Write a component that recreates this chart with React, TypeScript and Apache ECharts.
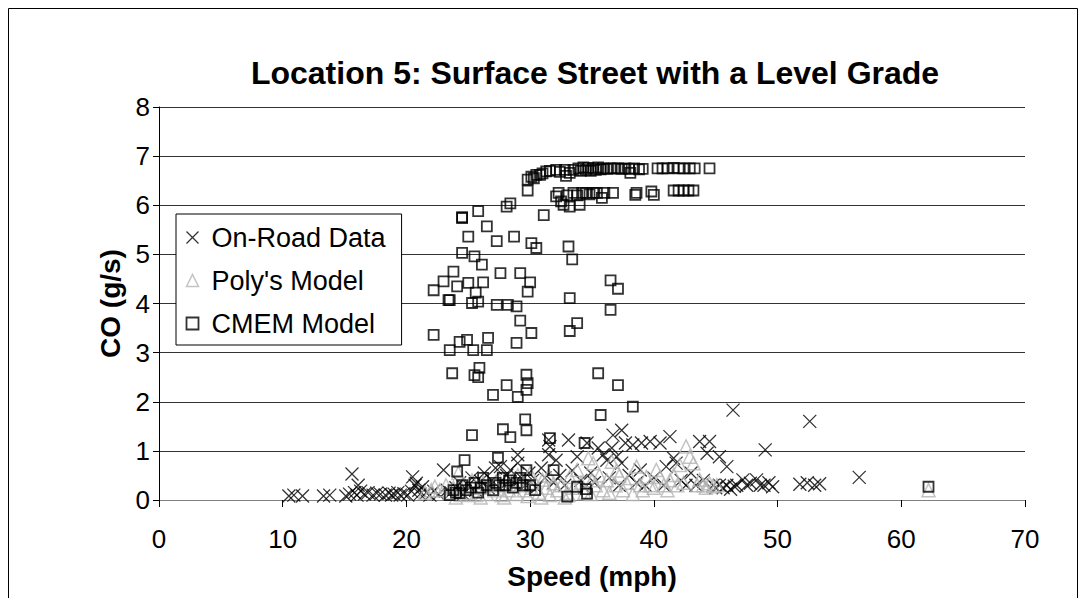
import React, { useEffect, useRef } from "react";
import * as echarts from "echarts";

const TITLE = "Location 5: Surface Street with a Level Grade";
const X_NAME = "Speed (mph)";
const Y_NAME = "CO (g/s)";
const SERIES_NAMES = ["On-Road Data", "Poly's Model", "CMEM Model"];

const onRoad: number[][] = [
  [10.5,0.08],[10.9,0.1],[11.6,0.08],[13.3,0.08],[13.8,0.1],[15.1,0.08],[15.4,0.12],[15.6,0.53],[15.8,0.15],[16.0,0.1],
  [16.1,0.3],[16.3,0.18],[16.6,0.12],[16.9,0.15],[17.3,0.1],[17.6,0.14],[17.9,0.12],[18.3,0.1],[18.6,0.14],[18.8,0.1],
  [19.0,0.12],[19.3,0.15],[19.5,0.1],[19.8,0.13],[20.1,0.1],[20.4,0.18],[20.5,0.47],[20.7,0.3],[20.8,0.34],[21.0,0.2],
  [21.1,0.12],[21.3,0.27],[21.6,0.15],[21.9,0.1],[22.2,0.18],[22.6,0.12],[23.0,0.61],[23.3,0.2],[23.6,0.15],[24.0,0.25],
  [24.3,0.35],[24.6,0.12],[25.0,0.3],[25.3,0.45],[25.6,0.2],[26.0,0.38],[26.3,0.55],[26.6,0.25],[26.9,0.4],[27.2,0.65],
  [27.6,0.68],[27.9,0.3],[28.1,0.5],[28.4,0.61],[28.7,0.35],[29.0,0.92],[29.0,0.75],[29.3,0.45],[29.6,0.3],[29.9,0.55],
  [30.2,0.4],[30.5,0.25],[30.9,0.65],[31.2,0.45],[31.5,1.22],[31.5,0.92],[31.6,1.09],[31.9,0.35],[32.1,0.81],[32.4,0.5],
  [32.8,0.3],[33.1,1.22],[33.4,0.6],[33.8,0.88],[34.1,0.4],[34.4,0.25],[34.6,1.16],[34.9,0.55],[35.2,0.35],[35.5,1.06],
  [35.9,0.92],[36.2,0.81],[36.4,0.45],[36.6,1.06],[36.7,1.32],[37.0,0.88],[37.2,0.3],[37.4,1.42],[37.4,0.75],[37.7,1.16],
  [38.0,0.5],[38.3,1.12],[38.6,0.35],[38.9,0.61],[39.0,1.16],[39.3,0.3],[39.7,1.19],[40.0,0.45],[40.5,1.16],[40.8,0.3],
  [41.0,0.68],[41.3,1.29],[41.6,0.85],[41.8,0.75],[42.2,0.4],[42.6,0.3],[43.0,0.55],[43.4,0.3],[43.7,1.19],[44.0,0.4],
  [44.3,0.95],[44.5,1.19],[44.8,0.3],[45.0,0.25],[45.3,0.88],[45.3,0.3],[45.6,0.25],[45.9,0.68],[45.9,0.3],[46.2,0.22],
  [46.4,1.83],[46.5,0.28],[46.7,0.3],[47.2,0.41],[47.5,0.3],[47.8,0.34],[48.3,0.41],[48.6,0.3],[48.9,0.3],[49.0,1.02],
  [49.3,0.35],[49.6,0.27],[51.8,0.32],[52.4,0.35],[52.6,1.6],[53.0,0.3],[53.4,0.33],[56.6,0.46]
];

const polyModel: number[][] = [
  [21.5,0.15],[22.0,0.2],[22.3,0.27],[22.7,0.2],[23.2,0.3],[23.5,0.15],[23.8,0.25],[24.2,0.55],[24.4,0.1],[24.7,0.3],
  [25.0,0.15],[25.3,0.4],[25.6,0.1],[25.9,0.25],[26.2,0.35],[26.5,0.12],[26.8,0.3],[27.1,0.2],[27.4,0.45],[27.7,0.1],
  [28.0,0.3],[28.3,0.2],[28.6,0.4],[28.9,0.12],[29.2,0.3],[29.5,0.2],[29.8,0.08],[30.1,0.25],[30.4,0.35],[30.7,0.15],
  [31.0,0.41],[31.3,0.25],[31.6,0.1],[31.9,0.34],[32.2,0.2],[32.5,0.3],[32.8,0.05],[33.0,0.15],[33.2,0.47],[33.5,0.25],
  [33.8,0.61],[34.1,0.35],[34.4,0.15],[34.7,0.85],[35.1,0.75],[35.3,0.3],[35.6,0.5],[35.9,0.2],[36.2,0.4],[36.6,0.78],
  [36.9,0.3],[37.2,0.5],[37.5,0.2],[37.8,0.35],[38.1,0.45],[38.6,0.68],[38.9,0.3],[39.1,0.2],[39.4,0.47],[39.7,0.3],
  [40.0,0.25],[40.2,0.61],[40.5,0.47],[40.8,0.3],[41.1,0.2],[41.3,0.4],[41.6,0.51],[41.9,0.3],[42.1,0.71],[42.4,0.35],
  [42.6,1.09],[42.9,0.88],[43.2,0.75],[43.5,0.3],[43.7,0.41],[44.0,0.3],[44.2,0.25],[44.5,0.34],[44.8,0.28],[45.1,0.3],
  [26.0,0.05],[27.9,0.05],[30.9,0.05],[33.1,0.1],[34.9,0.12],[36.4,0.15],[38.3,0.12],[24.0,0.05],[29.0,0.5],[30.0,0.55],
  [31.5,0.5],[35.0,0.4],[37.0,0.6],[62.2,0.2]
];

const cmemModel: number[][] = [
  [29.8,6.3],[29.8,6.52],[30.1,6.58],[30.3,6.55],[30.5,6.62],[30.8,6.62],[31.0,6.65],[31.3,6.69],[31.6,6.7],[32.1,6.72],
  [32.4,6.68],[32.8,6.72],[32.9,6.6],[33.2,6.66],[33.5,6.72],[33.9,6.75],[34.1,6.7],[34.3,6.77],[34.5,6.72],[34.7,6.76],
  [34.9,6.7],[35.1,6.75],[35.3,6.72],[35.5,6.77],[35.7,6.73],[35.9,6.75],[36.2,6.74],[36.5,6.75],[36.8,6.75],[37.1,6.75],
  [37.4,6.74],[37.7,6.75],[38.0,6.74],[38.1,6.66],[38.4,6.75],[38.8,6.73],[39.1,6.74],[40.3,6.75],[40.7,6.75],[41.1,6.75],
  [41.6,6.76],[42.0,6.75],[42.4,6.75],[42.9,6.75],[43.3,6.75],[44.5,6.75],
  [32.1,6.18],[32.3,6.25],[32.5,6.08],[32.7,6.01],[33.0,6.2],[33.2,5.97],[33.5,6.25],[33.8,6.2],[34.0,6.01],[34.2,6.25],
  [34.5,6.25],[34.8,6.22],[35.1,6.25],[35.4,6.25],[35.8,6.15],[36.0,6.25],[36.7,6.25],[38.5,6.21],[38.6,6.25],[39.8,6.28],
  [40.0,6.21],[41.6,6.3],[42.0,6.3],[42.4,6.3],[42.8,6.3],[43.2,6.3],
  [31.1,5.8],[28.1,5.97],[28.4,6.04],[24.5,5.76],[24.5,5.74],[25.8,5.88],[26.5,5.57],[25.0,5.36],[27.3,5.27],[28.7,5.36],
  [30.1,5.23],[30.5,5.13],[33.1,5.16],[33.4,4.9],[24.5,5.03],[25.5,4.96],[26.1,4.79],[27.6,4.62],[29.2,4.62],[30.0,4.43],
  [29.8,4.24],[23.8,4.65],[24.1,4.35],[25.0,4.42],[26.2,4.43],[25.6,4.22],[25.8,4.04],[25.3,4.01],[23.5,4.07],[27.3,3.97],
  [28.2,3.97],[28.9,3.94],[33.2,4.11],[36.5,4.47],[37.1,4.3],[36.5,3.87],[22.2,4.27],[23.0,4.45],[23.4,4.07],
  [29.2,3.65],[33.8,3.6],[22.2,3.36],[24.3,3.22],[23.5,3.05],[25.4,3.05],[24.9,3.26],[26.5,3.05],[26.6,3.3],[28.9,3.2],
  [30.1,3.4],[33.2,3.44],[23.7,2.58],[25.5,2.54],[25.9,2.69],[25.8,2.5],[28.1,2.34],[27.0,2.14],[29.0,2.1],[29.7,2.55],
  [29.8,2.38],[29.7,2.24],[35.5,2.58],[37.1,2.34],[38.3,1.9],[35.7,1.73],[29.6,1.64],[27.8,1.44],[28.4,1.28],[29.7,1.42],
  [25.3,1.32],[31.6,1.26],[34.4,1.16],[24.7,0.81],[27.4,0.86],[29.7,0.61],[31.9,0.61],[24.1,0.58],[33.0,0.07],[33.8,0.27],
  [34.6,0.13],[24.3,0.14],
  [23.5,0.1],[23.8,0.2],[24.0,0.15],[24.5,0.3],[24.8,0.2],[25.2,0.25],[25.5,0.35],[25.8,0.15],[26.0,0.25],[26.2,0.45],
  [26.5,0.3],[27.0,0.2],[27.2,0.35],[27.5,0.3],[27.8,0.45],[28.0,0.3],[28.3,0.4],[28.6,0.25],[28.9,0.35],[29.2,0.45],
  [29.4,0.3],[30.0,0.3],[30.4,0.2],[34.5,0.22],[62.2,0.27]
];

const X_MIN = 0, X_MAX = 70, X_STEP = 10;
const Y_MIN = 0, Y_MAX = 8, Y_STEP = 1;

const FONT = "'Liberation Sans', Arial, sans-serif";
const X_SYMBOL = "path://M0,0L10,10M0,10L10,0";

export default function App() {
  const ref = useRef<HTMLDivElement>(null);
  useEffect(() => {
    if (!ref.current) return;
    const chart = echarts.init(ref.current, null, { renderer: "svg" });
    const xStyle = { color: "none", borderColor: "#000", borderWidth: 1.3 };
    const triStyle = { color: "none", borderColor: "#b4b4b4", borderWidth: 1.5 };
    const sqStyle = { color: "none", borderColor: "#000", borderWidth: 1.8 };
    chart.setOption({
      animation: false,
      backgroundColor: "#fff",
      textStyle: { fontFamily: FONT },
      title: {
        text: TITLE,
        left: 590,
        textAlign: "center",
        top: 52,
        textStyle: { fontFamily: FONT, fontSize: 32, fontWeight: "bold", color: "#000" },
      },
      graphic: [
        {
          type: "rect",
          silent: true,
          shape: { x: 8.5, y: 8.5, width: 1069, height: 700 },
          style: { fill: "none", stroke: "#000", lineWidth: 1 },
          z: -10,
        },
      ],
      legend: {
        orient: "vertical",
        left: 176,
        top: 214,
        backgroundColor: "#fff",
        borderColor: "#000",
        borderWidth: 1,
        borderRadius: 0,
        padding: [10, 16, 8, 8],
        itemGap: 16,
        itemWidth: 12,
        itemHeight: 12,
        selectedMode: false,
        textStyle: { fontFamily: FONT, fontSize: 27, color: "#000", padding: [0, 0, 0, 8] },
        data: [
          { name: SERIES_NAMES[0], icon: X_SYMBOL, itemStyle: xStyle },
          { name: SERIES_NAMES[1], icon: "triangle", itemStyle: triStyle },
          { name: SERIES_NAMES[2], icon: "rect", itemStyle: sqStyle },
        ],
      },
      grid: { left: 159, right: 61, top: 107, bottom: 98, containLabel: false },
      xAxis: {
        type: "value",
        min: X_MIN,
        max: X_MAX,
        interval: X_STEP,
        name: X_NAME,
        nameLocation: "middle",
        nameGap: 62,
        nameTextStyle: { fontFamily: FONT, fontSize: 28, fontWeight: "bold", color: "#000" },
        axisLine: { show: true, lineStyle: { color: "#808080", width: 1 } },
        axisTick: { show: true, length: 7, lineStyle: { color: "#000" } },
        axisLabel: { fontFamily: FONT, fontSize: 26, color: "#000", margin: 26 },
        splitLine: { show: false },
      },
      yAxis: {
        type: "value",
        min: Y_MIN,
        max: Y_MAX,
        interval: Y_STEP,
        name: Y_NAME,
        nameLocation: "middle",
        nameGap: 27,
        nameTextStyle: { fontFamily: FONT, fontSize: 28, fontWeight: "bold", color: "#000" },
        axisLine: { show: true, lineStyle: { color: "#000", width: 1 } },
        axisTick: { show: true, length: 6, lineStyle: { color: "#000" } },
        axisLabel: { fontFamily: FONT, fontSize: 26, color: "#000", margin: 9 },
        splitLine: { show: true, lineStyle: { color: "#333", width: 1 } },
      },
      series: [
        {
          name: SERIES_NAMES[0],
          type: "scatter",
          data: onRoad,
          symbol: X_SYMBOL,
          symbolSize: 13,
          itemStyle: xStyle,
          z: 2,
        },
        {
          name: SERIES_NAMES[1],
          type: "scatter",
          data: polyModel,
          symbol: "triangle",
          symbolSize: 13,
          itemStyle: triStyle,
          z: 3,
        },
        {
          name: SERIES_NAMES[2],
          type: "scatter",
          data: cmemModel,
          symbol: "rect",
          symbolSize: 10,
          itemStyle: sqStyle,
          z: 4,
        },
      ],
    });
    return () => chart.dispose();
  }, []);
  return (
    <div
      ref={ref}
      style={{ position: "absolute", left: 0, top: 0, width: 1086, height: 598 }}
    />
  );
}
